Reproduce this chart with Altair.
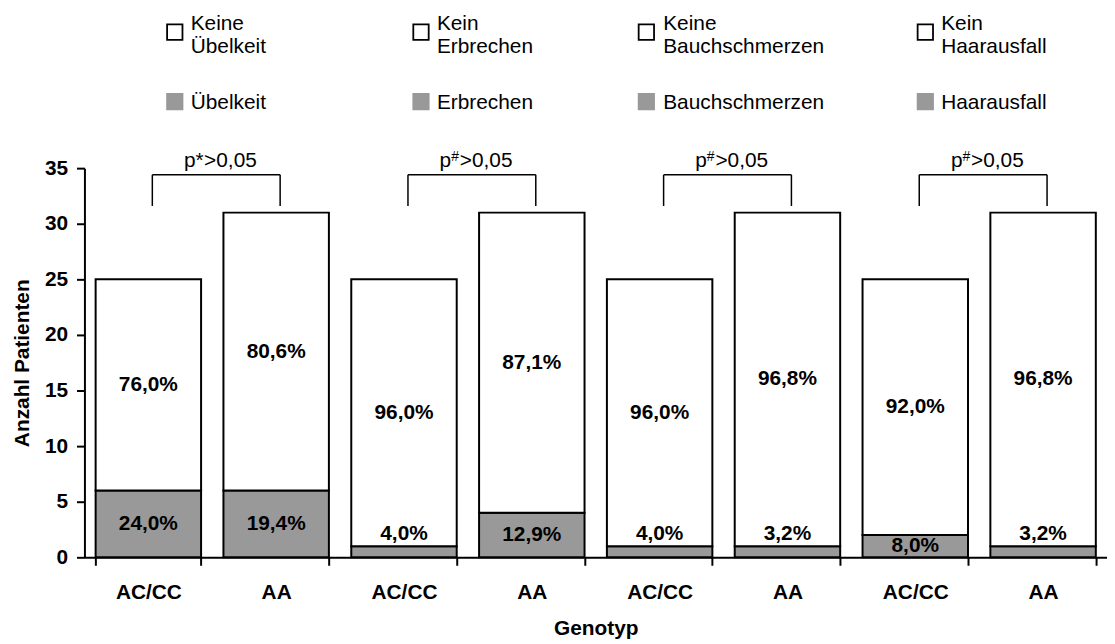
import altair as alt
import pandas as pd

# ---------------- data ----------------
symptoms = ["Übelkeit", "Erbrechen", "Bauchschmerzen", "Haarausfall"]
no_symptom_line1 = ["Keine", "Kein", "Keine", "Kein"]
genotypes = ["AC/CC", "AA", "AC/CC", "AA", "AC/CC", "AA", "AC/CC", "AA"]
totals = [25, 31, 25, 31, 25, 31, 25, 31]
with_symptom = [6, 6, 1, 4, 1, 1, 2, 1]
pct_without = ["76,0%", "80,6%", "96,0%", "87,1%", "96,0%", "96,8%", "92,0%", "96,8%"]
pct_with = ["24,0%", "19,4%", "4,0%", "12,9%", "4,0%", "3,2%", "8,0%", "3,2%"]
p_sup = ["*", "#", "#", "#"]
p_rest = ">0,05"

# ---------------- layout / style ----------------
FONT = "Liberation Sans"
GRAY = "#999999"
W, H = 1030, 392
bracket_low, bracket_high, p_text_y = 31.6, 34.4, 35.1
bracket_shift, text_shift = 4, 8
legend_sq_x = [91, 339, 566, 847]
legend_tx_x = [107, 355, 583, 863]
legend_row1_sq_y, legend_row2_sq_y = -137, -67
legend_row1_l1_y, legend_row1_l2_y, legend_row2_y = -139, -116, -60

pad_inner, pad_outer = 0.175, 0.0875
positions = list(range(len(genotypes)))
xscale = alt.Scale(domain=positions, paddingInner=pad_inner, paddingOuter=pad_outer)
yscale = alt.Scale(domain=[0, 35], nice=False)
step = W / (len(positions) - pad_inner + 2 * pad_outer)
half_gap = pad_inner * step / 2 + text_shift

# ---------------- tables ----------------
bar_rows = []
for i in positions:
    n = with_symptom[i]
    t = totals[i]
    bar_rows.append(dict(pos=i, lo=0, hi=n, seg="with", label=pct_with[i],
                         ly=(n / 2 if n >= 2 else n + 1.1)))
    bar_rows.append(dict(pos=i, lo=n, hi=t, seg="without", label=pct_without[i],
                         ly=(n + t) / 2))
bars = pd.DataFrame(bar_rows)

br_rows = []
for k in range(len(symptoms)):
    br_rows.append(dict(left=2 * k, right=2 * k + 1, sup=p_sup[k], p="p", rest=p_rest,
                        ylow=bracket_low, yhigh=bracket_high, ty=p_text_y))
brackets = pd.DataFrame(br_rows)
vert = pd.DataFrame([dict(pos=p, ylow=bracket_low, yhigh=bracket_high)
                     for k in range(len(symptoms)) for p in (2 * k, 2 * k + 1)])

leg_rows = []
for k in range(len(symptoms)):
    leg_rows.append(dict(sx=legend_sq_x[k], sy=legend_row1_sq_y, kind="without",
                         tx=legend_tx_x[k], t1y=legend_row1_l1_y, t1=no_symptom_line1[k],
                         t2y=legend_row1_l2_y, t2=symptoms[k]))
    leg_rows.append(dict(sx=legend_sq_x[k], sy=legend_row2_sq_y, kind="with",
                         tx=legend_tx_x[k], t1y=legend_row2_y, t1=symptoms[k],
                         t2y=legend_row2_y, t2=""))
legend = pd.DataFrame(leg_rows)

label_expr = "[" + ",".join("'" + g + "'" for g in genotypes) + "][datum.value]"

fill_scale = alt.Scale(domain=["with", "without"], range=[GRAY, "white"])

x_axis = alt.Axis(labelExpr=label_expr, labelAngle=0, tickBand="extent",
                  tickSize=8, labelPadding=16, titlePadding=16)
y_axis = alt.Axis(values=[0, 5, 10, 15, 20, 25, 30, 35], tickSize=8,
                  labelPadding=9, titlePadding=12, grid=False)


def X(field, **kw):
    return alt.X(field, scale=xscale, axis=x_axis, title="Genotyp", **kw)


def Y(field):
    return alt.Y(field, scale=yscale, axis=y_axis, title="Anzahl Patienten")


# ---------------- layers ----------------
bar_layer = alt.Chart(bars).mark_bar(stroke="black", strokeWidth=2).encode(
    x=X("pos:O"),
    y=Y("lo:Q"),
    y2="hi:Q",
    fill=alt.Fill("seg:N", scale=fill_scale, legend=None),
)

pct_layer = alt.Chart(bars).mark_text(font=FONT, fontSize=21, fontWeight="bold",
                                      color="black", baseline="middle").encode(
    x=X("pos:O"),
    y=Y("ly:Q"),
    text="label:N",
)

vrule = alt.Chart(vert).mark_rule(color="black", strokeWidth=1.5,
                                  xOffset=bracket_shift).encode(
    x=X("pos:O"),
    y=Y("ylow:Q"),
    y2="yhigh:Q",
)
hrule = alt.Chart(brackets).mark_rule(color="black", strokeWidth=1.5,
                                      xOffset=bracket_shift, x2Offset=bracket_shift).encode(
    x=X("left:O"),
    x2="right:O",
    y=Y("yhigh:Q"),
)

p_base = dict(font=FONT, fontSize=21, color="black", baseline="alphabetic", align="left")
p_x = X("left:O", bandPosition=1)
p_y = Y("ty:Q")
p_layer = alt.Chart(brackets).mark_text(dx=half_gap - 36.5, **p_base).encode(
    x=p_x, y=p_y, text="p:N")
star_layer = alt.Chart(brackets).transform_filter("datum.sup == '*'").mark_text(
    dx=half_gap - 24.8, **p_base).encode(x=p_x, y=p_y, text="sup:N")
hash_layer = alt.Chart(brackets).transform_filter("datum.sup == '#'").mark_text(
    dx=half_gap - 24.8, dy=-6, font=FONT, fontSize=14, color="black",
    baseline="alphabetic", align="left").encode(x=p_x, y=p_y, text="sup:N")
rest_layer = alt.Chart(brackets).mark_text(dx=half_gap - 16.2, **p_base).encode(
    x=p_x, y=p_y, text="rest:N")

leg_sq = alt.Chart(legend).mark_point(shape="square", size=240, filled=True, opacity=1).encode(
    x=alt.X("sx:Q", scale=None, axis=None),
    y=alt.Y("sy:Q", scale=None, axis=None),
    fill=alt.Fill("kind:N", scale=fill_scale, legend=None),
    stroke=alt.Stroke("kind:N", scale=alt.Scale(domain=["with", "without"],
                                                range=[GRAY, "black"]), legend=None),
    strokeWidth=alt.value(1.8),
)
leg_t1 = alt.Chart(legend).mark_text(font=FONT, fontSize=21, color="black",
                                     align="left", baseline="alphabetic").encode(
    x=alt.X("tx:Q", scale=None, axis=None),
    y=alt.Y("t1y:Q", scale=None, axis=None),
    text="t1:N",
)
leg_t2 = alt.Chart(legend).transform_filter("datum.t2 != ''").mark_text(
    font=FONT, fontSize=21, color="black", align="left", baseline="alphabetic").encode(
    x=alt.X("tx:Q", scale=None, axis=None),
    y=alt.Y("t2y:Q", scale=None, axis=None),
    text="t2:N",
)

chart = alt.layer(
    bar_layer, pct_layer, vrule, hrule, p_layer, star_layer, hash_layer, rest_layer,
    leg_sq, leg_t1, leg_t2,
).properties(
    width=W, height=H,
    autosize=alt.AutoSizeParams(type="none"),
    padding={"left": 77, "top": 159, "right": 0, "bottom": 84},
    background="white",
).configure_view(stroke=None).configure_axis(
    domainColor="black", domainWidth=2, tickColor="black", tickWidth=2,
    labelFont=FONT, labelFontSize=21, labelFontWeight="bold", labelColor="black",
    titleFont=FONT, titleFontSize=21, titleFontWeight="bold", titleColor="black",
)

chart.save("out.html", embed_options={"renderer": "svg", "actions": False})
